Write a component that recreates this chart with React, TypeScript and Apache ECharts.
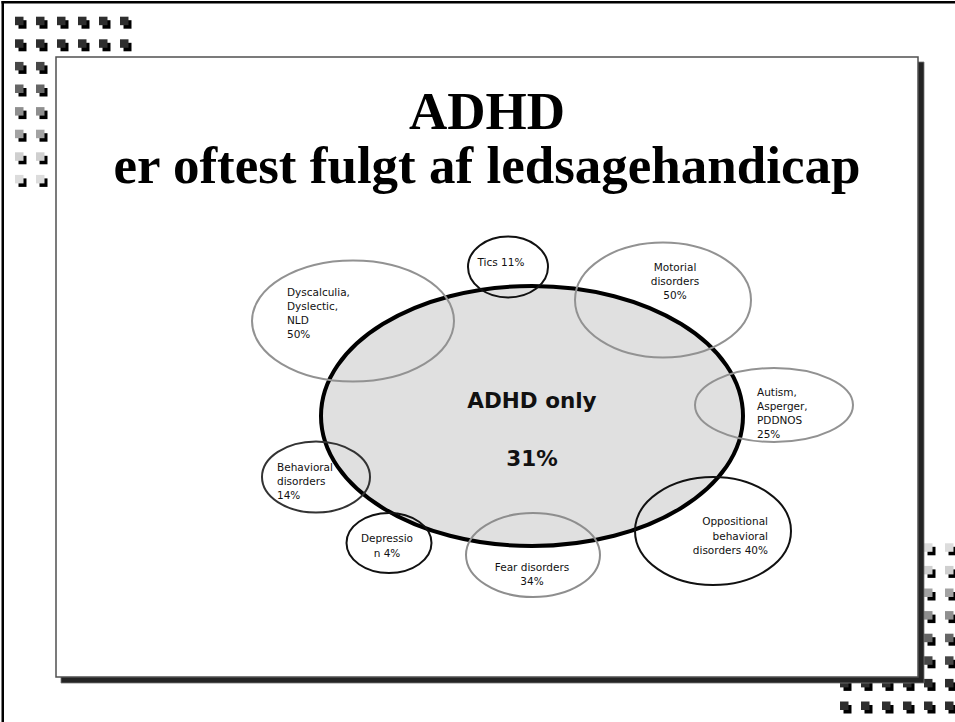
import React, { useEffect, useRef } from 'react';
import * as echarts from 'echarts';

// Diagram data: one entry per circle (index 0 = the central ADHD ellipse)
const NAMES = [
  'ADHD only',
  'Tics',
  'Motorial\ndisorders',
  'Dyscalculia,\nDyslectic,\nNLD',
  'Autism,\nAsperger,\nPDDNOS',
  'Behavioral\ndisorders',
  'Depressio\nn',
  'Fear disorders',
  'Oppositional\nbehavioral\ndisorders',
];
const PERCENTS = [31, 11, 50, 50, 25, 14, 4, 34, 40];
const JOINERS = ['\n\n', ' ', '\n', '\n', '\n', '\n', ' ', '\n', ' '];
// ellipse centres / radii in slide units
const CENTER_X = [532, 508, 663, 353, 774, 316, 389, 533, 713];
const CENTER_Y = [416, 267, 300, 321, 405, 477, 543, 555, 531];
const RADIUS_X = [211, 40, 88, 101, 79, 54, 42.5, 67, 78];
const RADIUS_Y = [130, 30.5, 57.5, 60.5, 37, 35.5, 30, 42, 54];
// label anchors in slide units
const LABEL_X = [532, 501, 675, 287, 757, 277, 387, 532, 768];
const LABEL_Y = [429, 262, 281, 313, 413, 481, 545.5, 574, 535.5];

const TITLE_LINES = ['ADHD', 'er oftest fulgt af ledsagehandicap'];

const ALIGNS = ['center', 'center', 'center', 'left', 'left', 'left', 'center', 'center', 'right'];
const STROKES = ['#000000', '#111111', '#929292', '#929292', '#929292', '#333333', '#111111', '#8e8e8e', '#111111'];
const WIDTHS = [4, 2, 2, 2, 2, 2, 2, 2, 2];

const TL_SHADES = ['#2e2e2e', '#2e2e2e', '#474747', '#666666', '#8f8f8f', '#a3a3a3', '#cfcfcf', '#dcdcdc'];
const BR_SHADES = ['#dcdcdc', '#cfcfcf', '#a3a3a3', '#8f8f8f', '#666666', '#474747', '#2e2e2e', '#2e2e2e'];

function square(x: number, y: number, fill: string): any[] {
  return [
    { type: 'rect', z: 0, z2: 0, silent: true, shape: { x: x + 3.5, y: y + 3.5, width: 8, height: 8.5 }, style: { fill: '#000' } },
    { type: 'rect', z: 0, z2: 1, silent: true, shape: { x, y, width: 8.5, height: 8.5 }, style: { fill } },
  ];
}

export default function App() {
  const ref = useRef<HTMLDivElement>(null);
  useEffect(() => {
    document.body.style.margin = '0';
    const chart = echarts.init(ref.current!, undefined, { renderer: 'svg' });

    const deco: any[] = [];
    for (let r = 0; r < 8; r++) {
      const cols = r < 2 ? [0, 1, 2, 3, 4, 5] : [0, 1];
      cols.forEach((c) => deco.push(...square(15 + 21 * c, 16.7 + 22.6 * r, TL_SHADES[r])));
    }
    for (let r = 0; r < 8; r++) {
      const cols = r >= 6 ? [0, 1, 2, 3, 4, 5] : [4, 5];
      cols.forEach((c) => deco.push(...square(840 + 21 * c, 543.3 + 22.6 * r, BR_SHADES[r])));
    }

    const TITLE_Y = [111, 165];
    const graphics: any[] = [
      ...deco,
      { type: 'rect', z: 0, z2: 2, silent: true, shape: { x: 61, y: 62, width: 863, height: 621 }, style: { fill: '#242424', stroke: '#777', lineWidth: 0.8 } },
      { type: 'rect', z: 0, z2: 3, silent: true, shape: { x: 56, y: 57, width: 862, height: 620 }, style: { fill: '#ffffff', stroke: '#505050', lineWidth: 1.5 } },
      { type: 'rect', z: 0, z2: 5, silent: true, shape: { x: 1.5, y: 1, width: 953.5, height: 2.5 }, style: { fill: '#000' } },
      { type: 'rect', z: 0, z2: 5, silent: true, shape: { x: 1.5, y: 1, width: 2.5, height: 722 }, style: { fill: '#000' } },
      ...TITLE_LINES.map((t, i) => ({
        type: 'text',
        z: 0,
        z2: 4,
        silent: true,
        x: 487,
        y: TITLE_Y[i],
        style: {
          text: t,
          fontFamily: "'Liberation Serif', 'Times New Roman', serif",
          fontWeight: 'bold',
          fontSize: 53,
          fill: '#000',
          align: 'center',
          verticalAlign: 'middle',
        },
      })),
    ];

    const ellipseData = CENTER_X.map((x, i) => [x, CENTER_Y[i], RADIUS_X[i], RADIUS_Y[i]]);
    const labelData = LABEL_X.map((x, i) => [x, LABEL_Y[i]]);

    chart.setOption({
      animation: false,
      grid: { left: 0, right: 0, top: 0, bottom: 0 },
      xAxis: { type: 'value', min: 0, max: 955, show: false },
      yAxis: { type: 'value', min: 0, max: 722, inverse: true, show: false },
      graphic: { elements: graphics },
      series: [
        {
          type: 'custom',
          z: 3,
          silent: true,
          data: ellipseData,
          renderItem: (params: any, api: any) => {
            const i = params.dataIndex;
            const c = api.coord([api.value(0), api.value(1)]);
            const s = api.size([api.value(2), api.value(3)]);
            return {
              type: 'ellipse',
              z2: i === 0 ? 0 : 1,
              shape: { cx: c[0], cy: c[1], rx: s[0], ry: s[1] },
              style: { fill: i === 0 ? '#e0e0e0' : 'none', stroke: STROKES[i], lineWidth: WIDTHS[i] },
            };
          },
        },
        {
          type: 'custom',
          z: 4,
          silent: true,
          data: labelData,
          renderItem: (params: any, api: any) => {
            const i = params.dataIndex;
            const p = api.coord([api.value(0), api.value(1)]);
            const main = i === 0;
            return {
              type: 'text',
              x: p[0],
              y: p[1],
              style: {
                text: NAMES[i] + JOINERS[i] + PERCENTS[i] + '%',
                fontFamily: "'DejaVu Sans', Verdana, sans-serif",
                fontWeight: main ? 'bold' : 'normal',
                fontSize: main ? 21.5 : 10.5,
                lineHeight: main ? 29 : 14.3,
                fill: '#111',
                align: ALIGNS[i],
                verticalAlign: 'middle',
              },
            };
          },
        },
      ],
    });
    return () => chart.dispose();
  }, []);
  return <div ref={ref} style={{ width: 955, height: 722 }} />;
}
